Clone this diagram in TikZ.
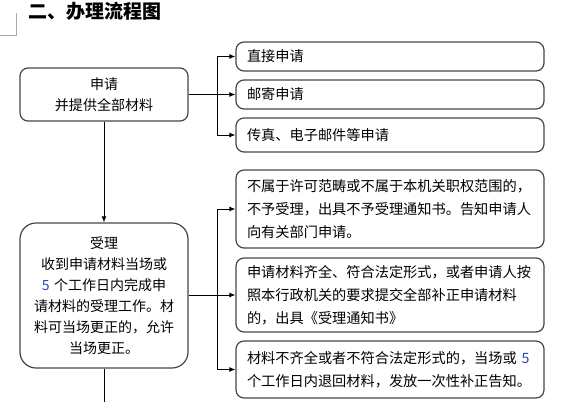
\documentclass[tikz,border=0pt]{standalone}
\usepackage{fontspec}
\setmainfont{Noto Sans CJK SC}
\usepackage{xcolor}
\definecolor{boxgray}{RGB}{70,70,70}
\definecolor{markgray}{RGB}{170,170,170}
\definecolor{numblue}{RGB}{40,70,200}
\usetikzlibrary{arrows.meta,positioning}

\begin{document}
\begin{tikzpicture}[x=1pt,y=-1pt,
  box/.style={draw=boxgray, line width=1.2pt, fill=white, rounded corners=8pt},
  wayb/.style={box, anchor=center, text width=286pt, inner xsep=11pt, inner ysep=0pt,
    align=left, font=\fontsize{14.2}{23}\selectfont},
  mainb/.style={box, text width=154pt, inner xsep=7pt, inner ysep=0pt,
    align=center, font=\fontsize{14}{21}\selectfont},
  link/.style={line width=1pt, black},
  arr/.style={link, -{Latex[length=6pt,width=5pt]}}]
  \useasboundingbox (0,0) rectangle (569,402);
  % page corner mark and heading
  \draw[markgray, line width=1pt] (0,35) -- (16,35) -- (16,13);
  \node[font=\fontsize{19}{19}\selectfont\bfseries, anchor=west] (title) at (25,11) {二、办理流程图};

  % left column
  \node[mainb, minimum height=53pt] (req) at (104,94.5) {申请\\并提供全部材料};
  \node[mainb, minimum height=145pt, rounded corners=16pt] (acc) at (104,295.5)
    {受理\\收到申请材料当场或\\\textcolor{numblue}{5} 个工作日内完成申\\请材料的受理工作。材\\料可当场更正的，允许\\当场更正。};

  % ways of applying
  \node[wayb, minimum height=29pt] (w1) at (390,56.5) {直接申请};
  \node[wayb, minimum height=29pt] (w2) at (390,94.5) {邮寄申请};
  \node[wayb, minimum height=34pt] (w3) at (390,135) {传真、电子邮件等申请};

  % results of acceptance
  \node[wayb, minimum height=78pt] (r1) at (390,209)
    {不属于许可范畴或不属于本机关职权范围的，\\不予受理，出具不予受理通知书。告知申请人\\向有关部门申请。};
  \node[wayb, minimum height=74pt] (r2) at (390,295)
    {申请材料齐全、符合法定形式，或者申请人按\\照本行政机关的要求提交全部补正申请材料\\的，出具《受理通知书》};
  \node[wayb, minimum height=57pt] (r3) at (390,369.5)
    {材料不齐全或者不符合法定形式的，当场或 \textcolor{numblue}{5}\\个工作日内退回材料，发放一次性补正告知。};

  \coordinate (j1) at (217,94.5);
  \coordinate (j2) at (217,295.5);
  \coordinate (down) at (104,402);

  \draw[link] (req.east) -- (j1);
  \foreach \t in {w1,w2,w3} \draw[arr] (j1) |- (\t);
  \draw[link] (acc.east) -- (j2);
  \foreach \t in {r1,r2,r3} \draw[arr] (j2) |- (\t);

  \draw[arr] (req.south) -- (acc.north);
  \draw[link] (acc.south) -- (down);
\end{tikzpicture}
\end{document}
